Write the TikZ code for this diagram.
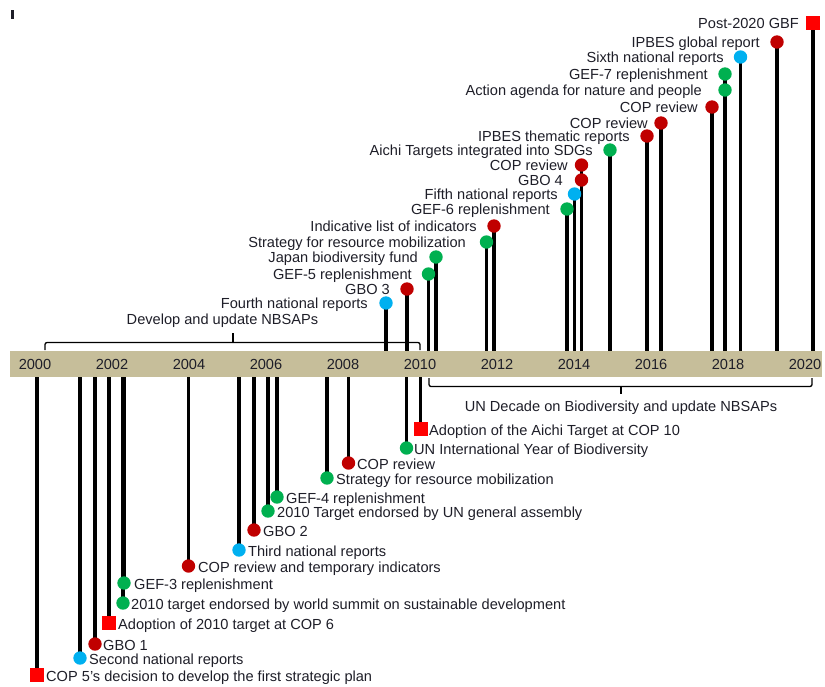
\documentclass[tikz,border=0pt]{standalone}
\usepackage{fontspec}
\setmainfont{Liberation Sans}
\usetikzlibrary{backgrounds}
\definecolor{dred}{HTML}{C00000}
\definecolor{bred}{HTML}{FF0000}
\definecolor{cgreen}{HTML}{00B050}
\definecolor{cblue}{HTML}{00B0F0}
\definecolor{band}{HTML}{C6BE9A}
\definecolor{txt}{HTML}{1E1E28}
\tikzset{
  dotred/.style={circle, fill=dred, minimum size=13.4pt, inner sep=0pt},
  dotgreen/.style={circle, fill=cgreen, minimum size=13.4pt, inner sep=0pt},
  dotblue/.style={circle, fill=cblue, minimum size=13.4pt, inner sep=0pt},
  sqred/.style={rectangle, fill=bred, minimum size=14pt, inner sep=0pt},
  stem/.style={line width=3.5pt, black},
  lbl/.style={font=\fontsize{14.6}{16}\selectfont, text=txt, inner sep=0pt},
  bracebar/.style={line width=1.3pt, black, rounded corners=2pt}
}
\begin{document}
\begin{tikzpicture}[x=1pt,y=-1pt]
\useasboundingbox (0,0) rectangle (825,686);
% stray mark
\fill[txt] (11,10) rectangle (13.5,19);
% axis band
\begin{pgfonlayer}{background}
\node[fill=band, minimum width=812pt, minimum height=26pt, inner sep=0pt, anchor=north west] (axis) at (10,351) {};
\end{pgfonlayer}
% year labels
\foreach \yr in {2000,2002,...,2020}
  \node[lbl] (y\yr) at ({35+38.5*(\yr-2000)},364) {\yr};
% events above the axis
\foreach \n/\x/\y/\m/\tx/\t in {
 t1/386/303/dotblue/368/Fourth national reports,
 t2/407/289/dotred/390/GBO 3,
 t3/428.5/274/dotgreen/412/GEF-5 replenishment,
 t4/436/257/dotgreen/418/Japan biodiversity fund,
 t5/486.5/242/dotgreen/466/Strategy for resource mobilization,
 t6/494/226/dotred/477/Indicative list of indicators,
 t7/567/209/dotgreen/550/GEF-6 replenishment,
 t8/574.5/194/dotblue/558/Fifth national reports,
 t9/581.5/180/dotred/563/GBO 4,
 t10/581.5/165/dotred/568/COP review,
 t11/610/150/dotgreen/593/Aichi Targets integrated into SDGs,
 t12/647/136/dotred/630/IPBES thematic reports,
 t13/661/123/dotred/648/COP review,
 t14/712/107/dotred/698/COP review,
 t15/725/90/dotgreen/702/Action agenda for nature and people,
 t16/725/74/dotgreen/708/GEF-7 replenishment,
 t17/740.5/57/dotblue/724/Sixth national reports,
 t18/777/42/dotred/760/IPBES global report,
 t19/813/23/sqred/799/Post-2020 GBF}
{
  \node[\m] (\n) at (\x,\y) {};
  \node[lbl, anchor=base east] (l\n) at (\tx,\y+5.5) {\t};
  \coordinate (e\n) at (\x,351);
  \begin{pgfonlayer}{background}
    \draw[stem] (\n.center) -- (e\n);
  \end{pgfonlayer}
}
% events below the axis
\foreach \n/\x/\y/\m/\tx/\t in {
 b1/37/675/sqred/46/COP 5’s decision to develop the first strategic plan,
 b2/80/658/dotblue/89/Second national reports,
 b3/95/644/dotred/103/GBO 1,
 b4/109/623/sqred/118/Adoption of 2010 target at COP 6,
 b5/123/603/dotgreen/131/2010 target endorsed by world summit on sustainable development,
 b6/124/583/dotgreen/134/GEF-3 replenishment,
 b7/188.5/566/dotred/198/COP review and temporary indicators,
 b8/239/550/dotblue/248/Third national reports,
 b9/254/530/dotred/263/GBO 2,
 b10/268/511/dotgreen/277/2010 Target endorsed by UN general assembly,
 b11/277/497/dotgreen/286/GEF-4 replenishment,
 b12/327/478/dotgreen/336/Strategy for resource mobilization,
 b13/348.5/463/dotred/357/COP review,
 b14/406.5/448/dotgreen/414/UN International Year of Biodiversity,
 b15/420.5/429/sqred/429/Adoption of the Aichi Target at COP 10}
{
  \node[\m] (\n) at (\x,\y) {};
  \node[lbl, anchor=base west] (l\n) at (\tx,\y+6) {\t};
  \coordinate (e\n) at (\x,377);
  \begin{pgfonlayer}{background}
    \draw[stem] (\n.center) -- (e\n);
  \end{pgfonlayer}
}
% brackets
\coordinate (ba1) at (45,350);
\coordinate (ba2) at (420,350);
\coordinate (bat) at (233,333);
\draw[bracebar] (ba1) -- (45,342.5) -- (420,342.5) -- (ba2);
\draw[line width=1.3pt] (233,342.5) -- (bat);
\node[lbl, anchor=base] (nbsap) at (222.5,324.5) {Develop and update NBSAPs};
\coordinate (bb1) at (429,378);
\coordinate (bb2) at (812,378);
\coordinate (bbt) at (621,394);
\draw[bracebar] (bb1) -- (429,386.5) -- (812,386.5) -- (bb2);
\draw[line width=1.3pt] (621,386.5) -- (bbt);
\node[lbl, anchor=base] (decade) at (621,411.5) {UN Decade on Biodiversity and update NBSAPs};
\end{tikzpicture}
\end{document}
